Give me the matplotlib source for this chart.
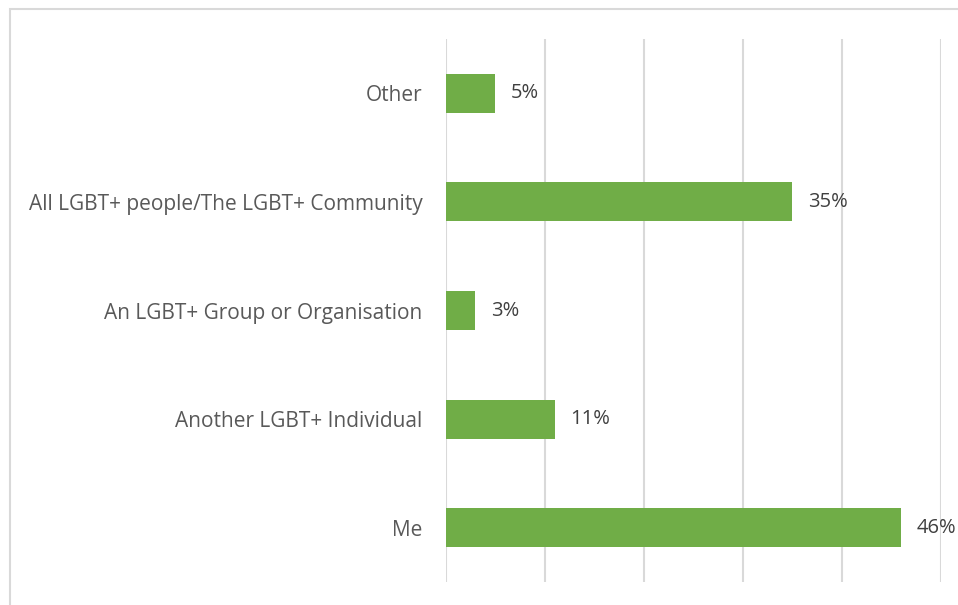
import matplotlib.pyplot as plt
from matplotlib.patches import Rectangle

categories = ['Me', 'Another LGBT+ Individual', 'An LGBT+ Group or Organisation',
              'All LGBT+ people/The LGBT+ Community', 'Other']
values = [46, 11, 3, 35, 5]

plt.rcParams['font.family'] = ['Open Sans', 'DejaVu Sans']

fig = plt.figure(figsize=(9.58, 6.05), dpi=100)
W, H = 958, 605
ax = fig.add_axes([445.6 / W, 1 - 582 / H, (940.7 - 445.6) / W, (582 - 39) / H])

# outer chart border (cut off at right and bottom like the source)
fig.patches.append(Rectangle((10 / W, -0.1), 1.2, 1.1 - 9 / H, transform=fig.transFigure,
                             fill=False, edgecolor='#D9D9D9', linewidth=1.5))

y = range(len(categories))
ax.barh(y, values, height=0.36, color='#70AD47', zorder=3)
for i, v in zip(y, values):
    ax.text(v + 1.6, i, f'{v}%', va='center', ha='left', fontsize=14.5, color='#404040')

ax.set_xlim(0, 50)
ax.set_ylim(-0.5, 4.5)
ax.set_xticks(range(0, 51, 10))
ax.set_xticklabels([])
ax.tick_params(axis='x', length=0)
ax.set_yticks(list(y))
ax.set_yticklabels(categories, fontsize=15, color='#595959')
ax.tick_params(axis='y', length=0, pad=16.5)
ax.grid(axis='x', color='#D9D9D9', linewidth=1.5, zorder=0)
for s in ax.spines.values():
    s.set_visible(False)

fig.savefig('out.png', dpi=100)
